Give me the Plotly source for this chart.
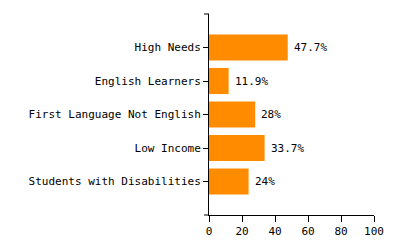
import plotly.graph_objects as go

categories = ["High Needs", "English Learners", "First Language Not English",
              "Low Income", "Students with Disabilities"]
values = [47.7, 11.9, 28, 33.7, 24]
x_ticks = [0, 20, 40, 60, 80, 100]

FONT = "DejaVu Sans Mono, Liberation Mono, monospace"

fig = go.Figure(go.Bar(
    x=values, y=categories, orientation="h",
    marker=dict(color="#FF8C00", line=dict(width=0)),
    width=0.78,
    hoverinfo="skip",
))

for c, v in zip(categories, values):
    fig.add_annotation(x=v, y=c, text=f"{v:g}%", showarrow=False,
                       xanchor="left", yanchor="middle", xshift=4,
                       font=dict(family=FONT, size=11, color="black"))

fig.update_layout(
    width=400, height=250,
    margin=dict(l=209, r=26, t=14, b=29),
    paper_bgcolor="white", plot_bgcolor="white",
    font=dict(family=FONT, size=11, color="black"),
    showlegend=False,
    xaxis=dict(range=[0, 100], tickvals=x_ticks, ticks="outside", ticklen=6,
               tickcolor="black", showline=True, linecolor="black", linewidth=1,
               showgrid=False, zeroline=False, fixedrange=True),
    yaxis=dict(categoryorder="array", categoryarray=categories,
               range=[len(categories), -1], ticks="outside", ticklen=5,
               tickcolor="black", showline=True, linecolor="black", linewidth=1,
               showgrid=False, zeroline=False, fixedrange=True),
    shapes=[
        dict(type="line", xref="paper", xsizemode="pixel", xanchor=0, x0=-5, x1=0,
             yref="paper", y0=1, y1=1, line=dict(color="black", width=1)),
        dict(type="line", xref="paper", xsizemode="pixel", xanchor=0, x0=-5, x1=0,
             yref="paper", y0=0, y1=0, line=dict(color="black", width=1)),
    ],
)

fig.write_html("out.html")
